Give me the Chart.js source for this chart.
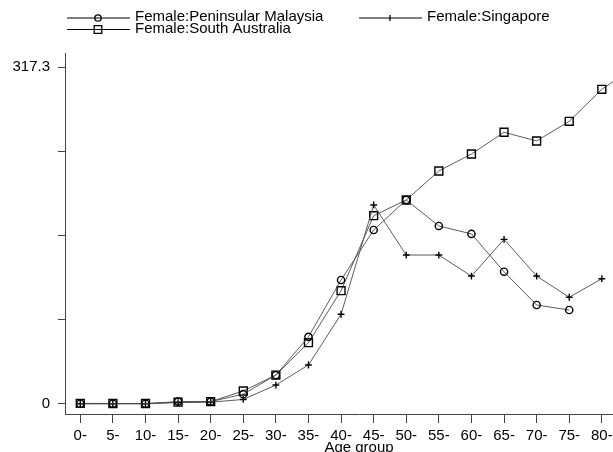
<!DOCTYPE html>
<html>
<head>
<meta charset="utf-8">
<script src="https://cdn.jsdelivr.net/npm/chart.js@4/dist/chart.umd.min.js"></script>
<style>
  html, body { margin: 0; padding: 0; background: #fff; overflow: hidden; width: 613px; height: 452px; }
  canvas { display: block; }
</style>
</head>
<body>
<canvas id="c" width="660" height="452" style="width:660px;height:452px"></canvas>
<script>
// Age-specific rates by five-year age group
const ageGroups = ['0-','5-','10-','15-','20-','25-','30-','35-','40-','45-','50-','55-','60-','65-','70-','75-','80-','85-'];
const peninsularMalaysia = [0, 0, 0, 2, 2, 9, 27, 63, 116.6, 163.7, 192, 167.5, 160, 124.4, 93, 88.3, null, null];
const singapore = [0, 0, 0, 1, 1.5, 4, 17.6, 36.5, 84.3, 187.3, 140.1, 140.1, 120.3, 154.9, 120.3, 100.3, 117.8, null];
const southAustralia = [0.3, 0.2, 0.2, 1.5, 2, 12, 27, 57.5, 106.5, 177.2, 192, 219.3, 235.3, 255.8, 247.6, 266.1, 296.3, 317.3];
const seriesNames = ['Female:Peninsular Malaysia', 'Female:Singapore', 'Female:South Australia'];
const yMaxLabel = 317.3;

const FONT = "'Liberation Sans', Arial, Helvetica, sans-serif";
const toPoints = arr => arr.map((v, i) => ({ x: i, y: v }));

function series(label, values, style, radius) {
  return {
    label,
    data: toPoints(values),
    borderColor: '#4a4a4a',
    borderWidth: 0.9,
    pointStyle: style,
    pointRadius: radius,
    pointBorderColor: '#000',
    pointBorderWidth: 1.4,
    pointBackgroundColor: 'rgba(0,0,0,0)',
    spanGaps: false,
    tension: 0
  };
}

// Legend in two columns: line with marker in the middle, then label
const legendPlugin = {
  id: 'lineLegend',
  afterDraw(chart) {
    const ctx = chart.ctx;
    const items = [
      { x: 67, y: 18, style: 'circle', text: seriesNames[0] },
      { x: 359, y: 18, style: 'cross', text: seriesNames[1] },
      { x: 67, y: 29.5, style: 'rect', text: seriesNames[2] }
    ];
    ctx.save();
    ctx.font = '15px ' + FONT;
    ctx.textBaseline = 'middle';
    ctx.fillStyle = '#000';
    items.forEach(it => {
      const x1 = it.x, x2 = it.x + 63, mx = it.x + 31;
      ctx.strokeStyle = '#000';
      ctx.lineWidth = 1;
      ctx.beginPath();
      ctx.moveTo(x1, it.y);
      ctx.lineTo(x2, it.y);
      ctx.stroke();
      ctx.lineWidth = 1.3;
      ctx.beginPath();
      if (it.style === 'circle') {
        ctx.arc(mx, it.y, 3.2, 0, Math.PI * 2);
      } else if (it.style === 'rect') {
        ctx.rect(mx - 3.8, it.y - 3.8, 7.6, 7.6);
      } else {
        ctx.moveTo(mx, it.y - 3); ctx.lineTo(mx, it.y + 3);
      }
      ctx.stroke();
      ctx.fillText(it.text, it.x + 68, it.y - 1);
    });
    ctx.restore();
  }
};

new Chart(document.getElementById('c'), {
  type: 'line',
  data: {
    datasets: [
      series(seriesNames[0], peninsularMalaysia, 'circle', 3.6),
      series(seriesNames[1], singapore, 'cross', 3.4),
      series(seriesNames[2], southAustralia, 'rect', 5.6)
    ]
  },
  options: {
    responsive: false,
    animation: false,
    devicePixelRatio: 1,
    layout: { padding: { top: 53, right: 7, left: 0, bottom: 0 } },
    plugins: { legend: { display: false }, tooltip: { enabled: false } },
    scales: {
      x: {
        type: 'linear',
        min: -0.469,
        max: 17.57,
        afterBuildTicks: s => { s.ticks = ageGroups.map((_, i) => ({ value: i })); },
        afterFit: s => { s.height = 38; },
        ticks: {
          autoSkip: false,
          maxRotation: 0,
          padding: 4,
          color: '#000',
          font: { family: FONT, size: 15 },
          callback: v => ageGroups[v] ?? ''
        },
        grid: { drawOnChartArea: false, drawTicks: true, tickLength: 9, color: '#444' },
        border: { display: true, color: '#444', width: 1 },
        title: {
          display: true,
          text: 'Age group',
          color: '#000',
          padding: { top: 0, bottom: -2 },
          font: { family: FONT, size: 15, lineHeight: 0.8 }
        }
      },
      y: {
        min: -9.7,
        max: 330.5,
        afterBuildTicks: s => { s.ticks = [0, 1, 2, 3, 4].map(k => ({ value: yMaxLabel * k / 4 })); },
        afterFit: s => { s.width = 65; },
        ticks: {
          padding: 8,
          color: '#000',
          font: { family: FONT, size: 15 },
          callback: v => (v === 0 ? '0' : (Math.abs(v - yMaxLabel) < 1e-6 ? String(yMaxLabel) : ''))
        },
        grid: { drawOnChartArea: false, drawTicks: true, tickLength: 7, color: '#444' },
        border: { display: true, color: '#444', width: 1 }
      }
    }
  },
  plugins: [legendPlugin]
});
</script>
</body>
</html>
